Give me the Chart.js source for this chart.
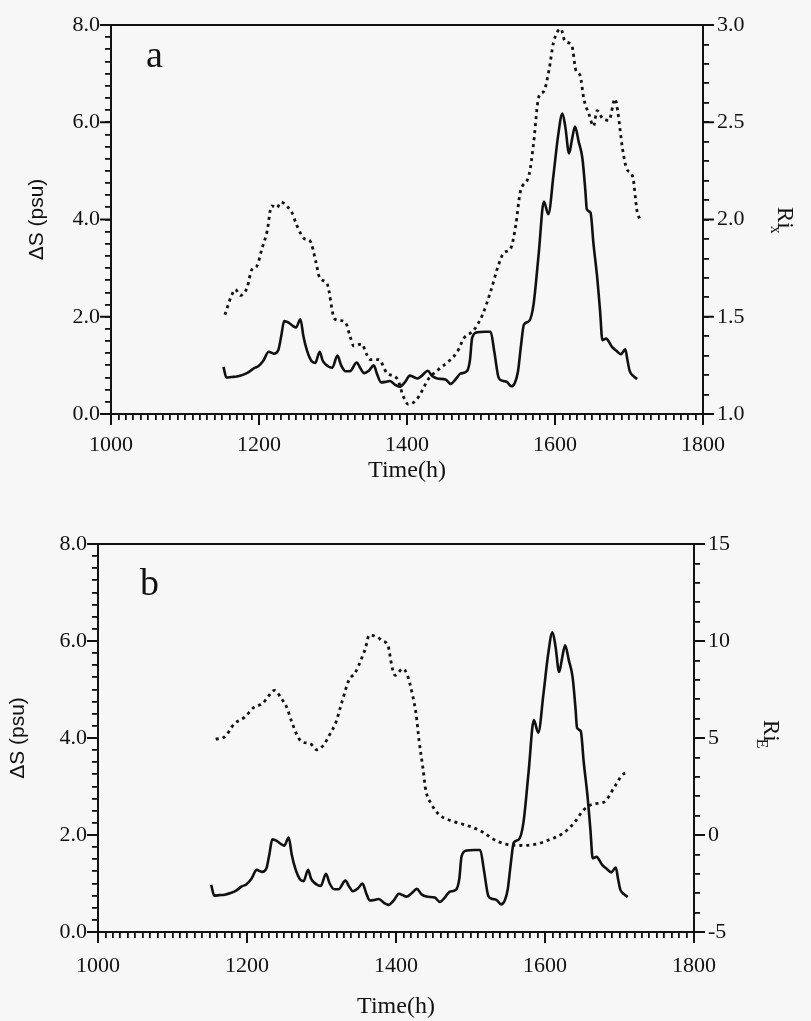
<!DOCTYPE html>
<html>
<head>
<meta charset="utf-8">
<script src="https://cdn.jsdelivr.net/npm/chart.js@4.4.1/dist/chart.umd.min.js"></script>
<style>
  html, body { margin: 0; padding: 0; background: #f7f7f7; }
  #wrap { position: relative; width: 811px; height: 1021px; }
  canvas { position: absolute; left: 0; }
  #chartA { top: 0; }
  #chartB { top: 520px; }
</style>
</head>
<body>
<div id="wrap">
  <canvas id="chartA" width="811" height="500"></canvas>
  <canvas id="chartB" width="811" height="501"></canvas>
</div>
<script>
// 1. Data
// Salinity difference ΔS (psu), same record in both panels
const timeDS = [1152, 1156, 1163, 1170, 1179, 1186, 1193, 1199, 1206, 1213, 1220, 1226, 1230, 1234, 1240, 1245,
  1250, 1256, 1260, 1265, 1271, 1276, 1282, 1286, 1290, 1299, 1306, 1311, 1317, 1323, 1332, 1337, 1342, 1349,
  1355, 1360, 1365, 1371, 1377, 1384, 1390, 1397, 1404, 1409, 1414, 1421, 1428, 1434, 1441, 1452, 1459, 1466,
  1472, 1481, 1485, 1488, 1495, 1505, 1513, 1518, 1524, 1530, 1535, 1541, 1546, 1550, 1554, 1558, 1565, 1571,
  1578, 1585, 1591, 1598, 1604, 1610, 1614, 1619, 1623, 1627, 1632, 1637, 1641, 1643, 1648, 1652, 1657, 1661,
  1664, 1669, 1677, 1683, 1689, 1695, 1698, 1701, 1706, 1711];
const valDS = [0.97, 0.75, 0.76, 0.77, 0.81, 0.86, 0.94, 0.98, 1.10, 1.28, 1.24, 1.31, 1.60, 1.91, 1.88, 1.82,
  1.78, 1.95, 1.60, 1.30, 1.09, 1.05, 1.28, 1.10, 1.02, 0.95, 1.20, 1.00, 0.88, 0.88, 1.06, 0.94, 0.84, 0.90,
  1.00, 0.80, 0.65, 0.66, 0.68, 0.60, 0.56, 0.65, 0.79, 0.76, 0.73, 0.80, 0.89, 0.78, 0.73, 0.71, 0.62, 0.72,
  0.83, 0.88, 1.10, 1.56, 1.68, 1.69, 1.69, 1.28, 0.74, 0.68, 0.66, 0.57, 0.65, 0.88, 1.40, 1.84, 1.91, 2.25,
  3.30, 4.37, 4.11, 4.92, 5.70, 6.18, 5.90, 5.36, 5.65, 5.91, 5.60, 5.26, 4.60, 4.21, 4.14, 3.50, 2.81, 2.10,
  1.52, 1.55, 1.38, 1.30, 1.23, 1.33, 1.10, 0.88, 0.78, 0.72];

// Ri_x (panel a, right axis)
const timeRiX = [1154, 1163, 1168, 1175, 1184, 1190, 1197, 1204, 1211, 1217, 1224, 1230, 1237, 1244, 1250, 1256,
  1262, 1269, 1277, 1282, 1292, 1302, 1310, 1317, 1323, 1328, 1339, 1345, 1350, 1362, 1373, 1387, 1395, 1402,
  1409, 1416, 1429, 1443, 1456, 1468, 1477, 1490, 1502, 1513, 1524, 1531, 1540, 1547, 1553, 1565, 1571, 1578,
  1585, 1592, 1598, 1608, 1613, 1623, 1628, 1634, 1639, 1646, 1652, 1657, 1664, 1673, 1681, 1685, 1691, 1697,
  1705, 1711, 1715];
const valRiX = [1.51, 1.61, 1.64, 1.61, 1.65, 1.74, 1.76, 1.85, 1.94, 2.07, 2.06, 2.09, 2.07, 2.04, 1.98, 1.93,
  1.90, 1.89, 1.78, 1.70, 1.67, 1.49, 1.48, 1.47, 1.40, 1.35, 1.36, 1.31, 1.28, 1.28, 1.21, 1.18, 1.09, 1.05,
  1.06, 1.09, 1.18, 1.23, 1.27, 1.32, 1.39, 1.43, 1.51, 1.63, 1.77, 1.83, 1.85, 1.97, 2.14, 2.23, 2.39, 2.63,
  2.66, 2.77, 2.91, 2.98, 2.92, 2.89, 2.77, 2.74, 2.62, 2.54, 2.48, 2.56, 2.52, 2.51, 2.62, 2.55, 2.37, 2.26,
  2.22, 2.04, 2.00];

// Ri_E (panel b, right axis)
const timeRiE = [1158, 1170, 1183, 1197, 1210, 1221, 1228, 1237, 1246, 1253, 1260, 1267, 1273, 1285, 1294, 1303,
  1312, 1319, 1327, 1337, 1345, 1354, 1359, 1364, 1375, 1382, 1389, 1395, 1399, 1409, 1415, 1422, 1427, 1431,
  1436, 1440, 1447, 1458, 1472, 1490, 1503, 1517, 1530, 1544, 1567, 1589, 1607, 1625, 1639, 1652, 1666, 1679,
  1693, 1704, 1712];
const valRiE = [4.94, 5.06, 5.73, 6.08, 6.60, 6.78, 7.12, 7.46, 7.04, 6.61, 5.84, 5.16, 4.82, 4.70, 4.39, 4.65,
  5.25, 5.77, 6.80, 8.00, 8.35, 9.12, 9.63, 10.3, 10.2, 10.0, 9.79, 8.60, 8.23, 8.57, 8.27, 7.25, 6.22, 4.85,
  3.49, 2.30, 1.63, 1.04, 0.76, 0.55, 0.39, 0.14, -0.20, -0.44, -0.54, -0.46, -0.23, 0.11, 0.62, 1.30, 1.61, 1.69,
  2.46, 3.11, 3.23];

// Labelled ticks
const timeTicks = [1000, 1200, 1400, 1600, 1800];
const dsTicks = [0, 2, 4, 6, 8];
const riXTicks = [1.0, 1.5, 2.0, 2.5, 3.0];
const riETicks = [-5, 0, 5, 10, 15];

// 2. Common styles
const INK = '#111';
const SERIF = '"Liberation Serif", "DejaVu Serif", serif';
const SANS = '"Liberation Sans", Arial, sans-serif';
const MAJOR_LEN = 11;

const toPoints = (xs, ys) => xs.map((x, i) => ({ x: x, y: ys[i] }));
const isMajor = (v, list) => list.some(m => Math.abs(m - v) < 1e-6);

// 3. Plugin: top frame line, longer major ticks, panel letter and Ri title
const axisExtras = {
  id: 'axisExtras',
  afterDraw(chart, args, opts) {
    const ctx = chart.ctx;
    const a = chart.chartArea;
    ctx.save();
    ctx.strokeStyle = INK;
    ctx.lineWidth = 2;
    ctx.beginPath();
    ctx.moveTo(a.left - 1, a.top);
    ctx.lineTo(a.right + 1, a.top);
    ctx.stroke();

    ctx.lineWidth = 2;
    Object.values(chart.scales).forEach(scale => {
      scale.ticks.forEach(t => {
        if (!t.label) return;
        const p = scale.getPixelForValue(t.value);
        ctx.beginPath();
        if (scale.position === 'bottom') { ctx.moveTo(p, a.bottom); ctx.lineTo(p, a.bottom + MAJOR_LEN); }
        else if (scale.position === 'left') { ctx.moveTo(a.left, p); ctx.lineTo(a.left - MAJOR_LEN, p); }
        else { ctx.moveTo(a.right, p); ctx.lineTo(a.right + MAJOR_LEN, p); }
        ctx.stroke();
      });
    });

    ctx.fillStyle = INK;
    ctx.font = '38px ' + SERIF;
    ctx.textBaseline = 'alphabetic';
    ctx.fillText(opts.letter, opts.letterX, opts.letterY);

    // Ri with subscript, read top to bottom
    ctx.translate(opts.riX, opts.riY);
    ctx.rotate(Math.PI / 2);
    ctx.font = '23px ' + SERIF;
    ctx.fillText('Ri', 0, 0);
    const w = ctx.measureText('Ri').width;
    ctx.font = '16px ' + SERIF;
    ctx.fillText(opts.sub, w - 3, 7);
    ctx.restore();
  }
};

// 4. Build one panel
function makePanel(canvasId, cfg) {
  const ctx = document.getElementById(canvasId).getContext('2d');
  return new Chart(ctx, {
    type: 'line',
    data: {
      datasets: [
        {
          label: 'ΔS',
          data: toPoints(timeDS, valDS),
          yAxisID: 'y',
          borderColor: INK,
          borderWidth: 2.6,
          pointRadius: 0,
          cubicInterpolationMode: 'monotone'
        },
        {
          label: 'Ri',
          data: toPoints(cfg.riTimes, cfg.riVals),
          yAxisID: 'y1',
          borderColor: INK,
          borderWidth: 2.8,
          borderDash: [3, 4],
          pointRadius: 0,
          cubicInterpolationMode: 'monotone'
        }
      ]
    },
    options: {
      responsive: false,
      animation: false,
      devicePixelRatio: 1,
      layout: { padding: { top: cfg.top, left: 0, right: 0, bottom: 0 } },
      plugins: {
        legend: { display: false },
        tooltip: { enabled: false },
        axisExtras: cfg.extras
      },
      scales: {
        x: {
          type: 'linear',
          position: 'bottom',
          min: 1000, max: 1800,
          afterFit: s => { s.height = cfg.xHeight; },
          border: { display: true, color: INK, width: 2 },
          grid: { drawOnChartArea: false, drawTicks: true, tickLength: 6, color: INK, lineWidth: 1.8 },
          ticks: {
            stepSize: 10, autoSkip: false, maxRotation: 0, padding: cfg.xPad,
            color: INK, font: { family: SERIF, size: 22 },
            callback: v => isMajor(v, timeTicks) ? String(v) : ''
          },
          title: { display: true, text: 'Time(h)', color: INK, font: { family: SERIF, size: 24 }, padding: { top: 0, bottom: cfg.titlePad } }
        },
        y: {
          position: 'left',
          min: 0, max: 8,
          afterFit: s => { s.width = cfg.left; },
          border: { display: true, color: INK, width: 2 },
          grid: { drawOnChartArea: false, drawTicks: true, tickLength: 6, color: INK, lineWidth: 1.8 },
          ticks: {
            stepSize: 0.25, autoSkip: false, padding: 5,
            color: INK, font: { family: SERIF, size: 22 },
            callback: v => isMajor(v, dsTicks) ? v.toFixed(1) : ''
          },
          title: { display: true, text: 'ΔS (psu)', color: INK, font: { family: SANS, size: 21 }, padding: { top: cfg.dsPad, bottom: 0 } }
        },
        y1: {
          position: 'right',
          min: cfg.riMin, max: cfg.riMax,
          afterFit: s => { s.width = 811 - cfg.right; },
          border: { display: true, color: INK, width: 2 },
          grid: { drawOnChartArea: false, drawTicks: true, tickLength: 6, color: INK, lineWidth: 1.8 },
          ticks: {
            stepSize: cfg.riStep, autoSkip: false, padding: 8,
            color: INK, font: { family: SERIF, size: 22 },
            callback: v => isMajor(v, cfg.riTicks) ? cfg.riFmt(v) : ''
          }
        }
      }
    },
    plugins: [axisExtras]
  });
}

// 5. Draw both panels
makePanel('chartA', {
  top: 25, xHeight: 86, left: 111, right: 703, xPad: 12, titlePad: 15, dsPad: 25,
  riTimes: timeRiX, riVals: valRiX, riMin: 1, riMax: 3, riStep: 0.1, riTicks: riXTicks,
  riFmt: v => v.toFixed(1),
  extras: { letter: 'a', letterX: 146, letterY: 67, sub: 'x', riX: 778, riY: 207 }
});

makePanel('chartB', {
  top: 24, xHeight: 89, left: 98, right: 694, xPad: 15, titlePad: 0, dsPad: 6,
  riTimes: timeRiE, riVals: valRiE, riMin: -5, riMax: 15, riStep: 1, riTicks: riETicks,
  riFmt: v => String(Math.round(v)),
  extras: { letter: 'b', letterX: 140, letterY: 75, sub: 'E', riX: 764, riY: 200 }
});
</script>
</body>
</html>
